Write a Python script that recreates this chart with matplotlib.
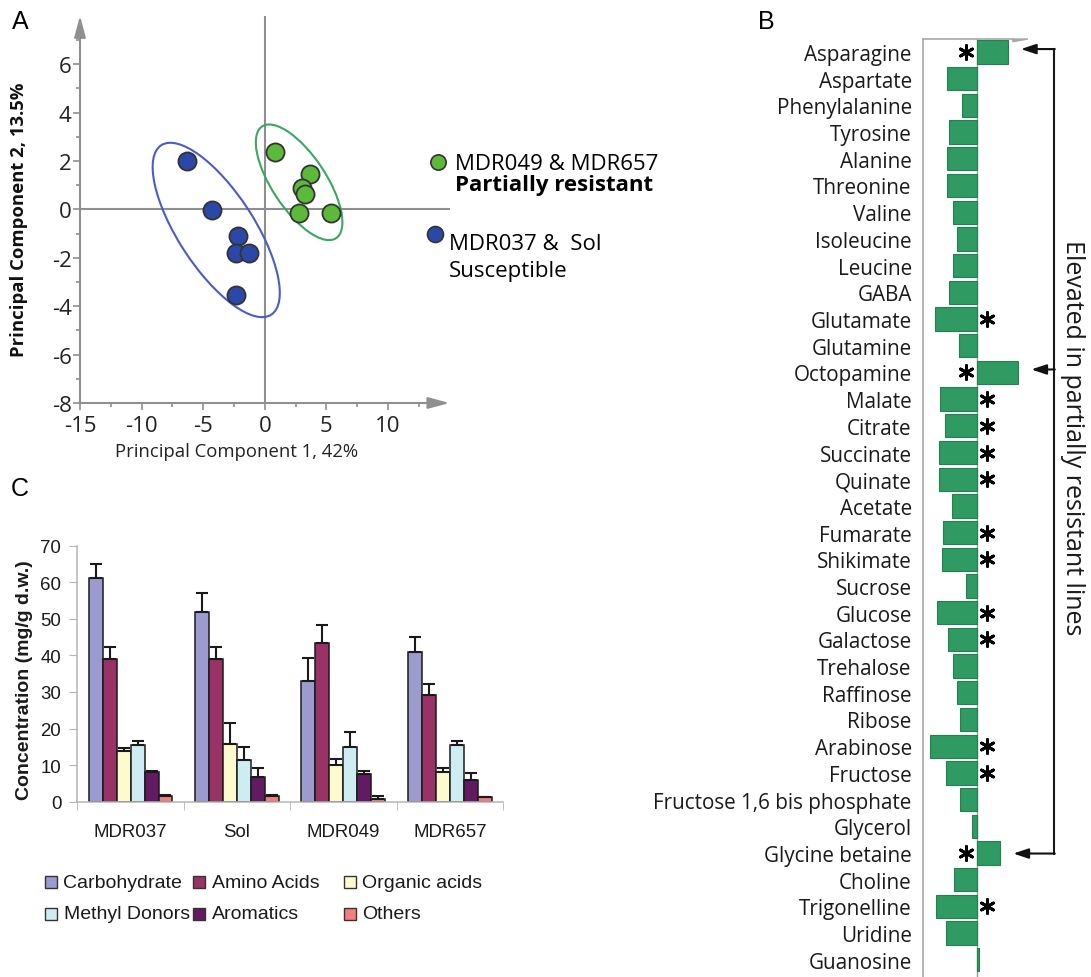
import matplotlib
matplotlib.use("Agg")
import matplotlib.pyplot as plt
import matplotlib.transforms as mtransforms
from matplotlib.patches import Ellipse, Rectangle, Polygon
import numpy as np

plt.rcParams['axes.unicode_minus'] = False

# ---- panel A : PCA scores ----
pc1_resistant = [0.87, 3.66, 3.0, 3.25, 2.76, 5.37]
pc2_resistant = [2.38, 1.47, 0.9, 0.62, -0.14, -0.14]
pc1_susceptible = [-6.3, -4.3, -2.17, -2.3, -1.27, -2.3]
pc2_susceptible = [2.02, -0.03, -1.1, -1.79, -1.79, -3.54]
resistant_centre = (2.79, 1.12)
susceptible_centre = (-3.94, -0.85)

# ---- panel B : metabolite change (arbitrary units) ----
metabolites = ['Asparagine', 'Aspartate', 'Phenylalanine', 'Tyrosine', 'Alanine',
               'Threonine', 'Valine', 'Isoleucine', 'Leucine', 'GABA', 'Glutamate',
               'Glutamine', 'Octopamine', 'Malate', 'Citrate', 'Succinate', 'Quinate',
               'Acetate', 'Fumarate', 'Shikimate', 'Sucrose', 'Glucose', 'Galactose',
               'Trehalose', 'Raffinose', 'Ribose', 'Arabinose', 'Fructose',
               'Fructose 1,6 bis phosphate', 'Glycerol', 'Glycine betaine', 'Choline',
               'Trigonelline', 'Uridine', 'Guanosine']
change = [1.52, -1.54, -0.79, -1.42, -1.54, -1.52, -1.22, -1.04, -1.22, -1.44, -2.10,
          -0.90, 2.04, -1.85, -1.64, -1.94, -1.92, -1.27, -1.72, -1.77, -0.59, -2.02,
          -1.49, -1.22, -1.04, -0.87, -2.37, -1.58, -0.89, -0.27, 1.14, -1.15, -2.05,
          -1.55, 0.09]
significant = [1, 0, 0, 0, 0, 0, 0, 0, 0, 0, 1, 0, 1, 1, 1, 1, 1, 0, 1, 1, 0, 1, 1,
               0, 0, 0, 1, 1, 0, 0, 1, 0, 1, 0, 0]

# ---- panel C : concentration by class ----
lines = ['MDR037', 'Sol', 'MDR049', 'MDR657']
classes = ['Carbohydrate', 'Amino Acids', 'Organic acids', 'Methyl Donors', 'Aromatics', 'Others']
carbohydrate = [61.1, 51.9, 33.1, 41.0]
amino_acids = [39.0, 39.0, 43.4, 29.2]
organic_acids = [13.8, 15.9, 10.0, 8.0]
methyl_donors = [15.5, 11.4, 14.9, 15.5]
aromatics = [8.0, 6.8, 7.6, 5.9]
others = [1.5, 1.6, 0.7, 1.2]
carbohydrate_err = [3.8, 5.1, 6.2, 4.0]
amino_acids_err = [3.2, 3.2, 4.9, 3.1]
organic_acids_err = [0.9, 5.5, 1.6, 1.1]
methyl_donors_err = [1.2, 3.5, 4.1, 1.2]
aromatics_err = [0.3, 2.3, 0.7, 1.9]
others_err = [0.2, 0.3, 0.9, 0.0]

W, H = 1091, 978
fig = plt.figure(figsize=(W / 100, H / 100), dpi=100)


def fx(px):
    return px / W


def fy(py):
    return 1 - py / H


sans = 'Open Sans'
arial = 'Liberation Sans'
gray = '#8f8f8f'

# ================= A =================
axA = fig.add_axes([fx(80), fy(404), 369.5 / W, 387.2 / H])
axA.set_xlim(-15, 15)
axA.set_ylim(-8, 8)
for s in ['top', 'right']:
    axA.spines[s].set_visible(False)
for s in ['left', 'bottom']:
    axA.spines[s].set_color(gray)
    axA.spines[s].set_linewidth(1.5)
axA.spines['left'].set_bounds(-8, 7.4)
axA.spines['bottom'].set_bounds(-15, 14.3)
arr = dict(arrowstyle='-|>,head_length=1.3,head_width=0.35', color=gray, lw=1.5,
           shrinkA=0, shrinkB=0)
axA.annotate('', xy=(-15, 8), xytext=(-15, 7.3), arrowprops=arr, annotation_clip=False)
axA.annotate('', xy=(15, -8), xytext=(14.2, -8), arrowprops=arr, annotation_clip=False)
axA.axvline(0, color=gray, lw=1.5, zorder=1)
axA.axhline(0, color=gray, lw=1.5, zorder=1)

axA.set_xticks([-15, -10, -5, 0, 5, 10])
axA.set_xticks([-12.5, -7.5, -2.5, 2.5, 7.5, 12.5], minor=True)
axA.set_yticks([-8, -6, -4, -2, 0, 2, 4, 6])
axA.set_yticks([-7, -5, -3, -1, 1, 3, 5, 7], minor=True)
axA.tick_params(which='major', length=5, width=1.2, color=gray, labelsize=16, pad=1)
axA.tick_params(which='minor', length=3, width=1.2, color=gray)
axA.tick_params(axis='x', pad=4)
for lab in axA.get_xticklabels() + axA.get_yticklabels():
    lab.set_family(sans)
    lab.set_color('#222222')

axA.set_xlabel('Principal Component 1, 42%', fontsize=13.3, family=sans, color='#222222')
axA.xaxis.set_label_coords(0.423, -0.10)
axA.set_ylabel('Principal Component 2, 13.5%', fontsize=13.3, family=sans,
               fontweight='bold', color='#111111')
axA.yaxis.set_label_coords(-0.14, 0.475)

green = '#5cba3a'
blue = '#2b48a8'
axA.scatter(pc1_resistant, pc2_resistant, s=170, c=green, edgecolors='#333333',
            linewidths=1.3, zorder=4)
axA.scatter(pc1_susceptible, pc2_susceptible, s=170, c=blue, edgecolors='#333333',
            linewidths=1.3, zorder=4)

# ellipses sized in pixels around a data centre
px_to_pt = mtransforms.Affine2D().scale(1 / 100) + fig.dpi_scale_trans
for centre, a, b, ang, col in [(susceptible_centre, 101, 38, -57, '#4a5cc6'),
                                (resistant_centre, 67, 27, -56.5, '#3aa85e')]:
    tr = px_to_pt + mtransforms.ScaledTranslation(centre[0], centre[1], axA.transData)
    axA.add_patch(Ellipse((0, 0), 2 * a, 2 * b, angle=ang, fill=False, edgecolor=col,
                          lw=1.5, transform=tr, zorder=3))

# legend of panel A
fig.add_artist(plt.Line2D([fx(438.3)], [fy(162.7)], marker='o', markersize=11,
                          markerfacecolor=green, markeredgecolor='#333333', mew=1.2))
fig.add_artist(plt.Line2D([fx(435)], [fy(235)], marker='o', markersize=11.5,
                          markerfacecolor=blue, markeredgecolor='#333333', mew=1.2))
fig.text(fx(455), fy(170), 'MDR049 & MDR657', fontsize=16, family=sans, va='baseline')
fig.text(fx(455), fy(190.5), 'Partially resistant', fontsize=16, family=sans,
         fontweight='bold', va='baseline')
fig.text(fx(449), fy(250), 'MDR037 &  Sol', fontsize=16, family=sans, va='baseline')
fig.text(fx(449), fy(277.5), 'Susceptible', fontsize=16, family=sans, va='baseline')

# ================= B =================
axB = fig.add_axes([fx(923.3), 0, (W - 923.3) / W, (H - 40) / H])
rows = np.arange(len(metabolites))
vals = np.array(change)
sig = np.array(significant, dtype=bool)
axB.barh(rows, vals, height=0.87, color='#2f9a62', edgecolor='#23804f', lw=0.8, zorder=2)
axB.set_xlim(-2.7, (W - 977.3) / 20)
axB.set_ylim((H - 53) / 26.7, (40 - 53) / 26.7)
axB.axvline(0, color='#9a9a9a', lw=1, zorder=1)
for s in ['right', 'bottom', 'top']:
    axB.spines[s].set_visible(False)
axB.spines['left'].set_color('#a8a8a8')
axB.spines['left'].set_linewidth(1.2)
ytop = (40 - 53) / 26.7
axB.plot([-2.7, 1.8], [ytop, ytop], color='#a8a8a8', lw=1.2, clip_on=False)
axB.add_patch(Polygon([[1.78, ytop], [2.53, ytop], [1.78, ytop + 0.1]], closed=True,
                      color='#a8a8a8', clip_on=False))
axB.set_xticks([])
axB.set_yticks(rows)
axB.set_yticklabels(metabolites, fontsize=14.9, family=sans, color='#1a1a1a')
axB.tick_params(axis='y', length=0, pad=8.4)

star_x = np.where(vals > 0, -0.56, 0.47)
axB.scatter(star_x[sig], rows[sig], marker=(6, 2, 0), s=100, c='k', linewidths=2.1,
            zorder=3)

elevated = rows[sig & (vals > 0)]
bracket_x = (1054 - 977.3) / 20
axB.plot([bracket_x, bracket_x], [elevated[0] - 0.11, elevated[-1] + 0.02],
         color='#1a1a1a', lw=1.5)
for r in elevated:
    yy = r - 0.11 if r < elevated[-1] else r + 0.02
    axB.annotate('', xy=(vals[r] + 0.66, yy), xytext=(bracket_x + 0.04, yy),
                 arrowprops=dict(arrowstyle='-|>,head_length=0.9,head_width=0.3',
                                 color='#111111', lw=1.5, shrinkA=0, shrinkB=0))
axB.text((1072 - 977.3) / 20, (437.5 - 53) / 26.7, 'Elevated in partially resistant lines',
         rotation=-90, ha='center', va='center', fontsize=18, family=sans,
         color='#1a1a1a')

# ================= C =================
axC = fig.add_axes([fx(77.3), fy(802.7), 425.7 / W, 256 / H])
values = [carbohydrate, amino_acids, organic_acids, methyl_donors, aromatics, others]
errors = [carbohydrate_err, amino_acids_err, organic_acids_err, methyl_donors_err,
          aromatics_err, others_err]
colors = ['#9b9bcf', '#993366', '#fdfbcd', '#cdedf3', '#621a62', '#f27f7f']
bw = 0.1315
centres = np.arange(len(lines)) + 0.5
for k, (v, e, c) in enumerate(zip(values, errors, colors)):
    xs = centres + (k - 2.5) * bw
    axC.bar(xs, v, width=bw, color=c, edgecolor='#1a1a1a', lw=1.1, zorder=2)
    axC.errorbar(xs, v, yerr=[np.zeros(len(e)), e], fmt='none', ecolor='#1a1a1a',
                 elinewidth=1.5, capsize=4.2, capthick=1.5, zorder=3)
axC.set_xlim(0, 4)
axC.set_ylim(0, 70)
axC.set_yticks(range(0, 71, 10))
axC.set_xticks(centres)
axC.set_xticklabels(lines)
axC.set_xticks([0, 1, 2, 3, 4], minor=True)
for s in ['top', 'right']:
    axC.spines[s].set_visible(False)
for s in ['left', 'bottom']:
    axC.spines[s].set_color('#b5b5b5')
    axC.spines[s].set_linewidth(1.1)
axC.tick_params(axis='y', length=5.5, color='#b5b5b5', pad=6, labelsize=13.4)
axC.tick_params(axis='x', which='major', length=0, pad=15, labelsize=13.4)
axC.tick_params(axis='x', which='minor', length=6, color='#b5b5b5')
for lab in axC.get_xticklabels() + axC.get_yticklabels():
    lab.set_family(arial)
    lab.set_color('#1a1a1a')
axC.set_ylabel('Concentration (mg/g d.w.)', fontsize=14, family=arial, fontweight='bold',
               color='#1a1a1a')
axC.yaxis.set_label_coords(-0.105, 0.48)

# legend of panel C
col_sq = [45, 193.3, 344]
row_y = [883, 915]
for k, (name, c) in enumerate(zip(classes, colors)):
    r, cidx = k // 3, k % 3
    x0, y0 = col_sq[cidx], row_y[r]
    fig.add_artist(Rectangle((fx(x0), fy(y0 + 6)), 12 / W, 12 / H, transform=fig.transFigure,
                             facecolor=c, edgecolor='#333333', lw=1))
    fig.text(fx(x0 + 18.5), fy(y0), name, fontsize=14, family=arial, va='center',
             color='#1a1a1a')

# panel letters
fig.text(fx(20), fy(22), 'A', fontsize=18, family=arial, ha='center', va='center')
fig.text(fx(766), fy(22), 'B', fontsize=18, family=arial, ha='center', va='center')
fig.text(fx(20), fy(489), 'C', fontsize=18, family=arial, ha='center', va='center')

fig.savefig('out.png', dpi=100)
